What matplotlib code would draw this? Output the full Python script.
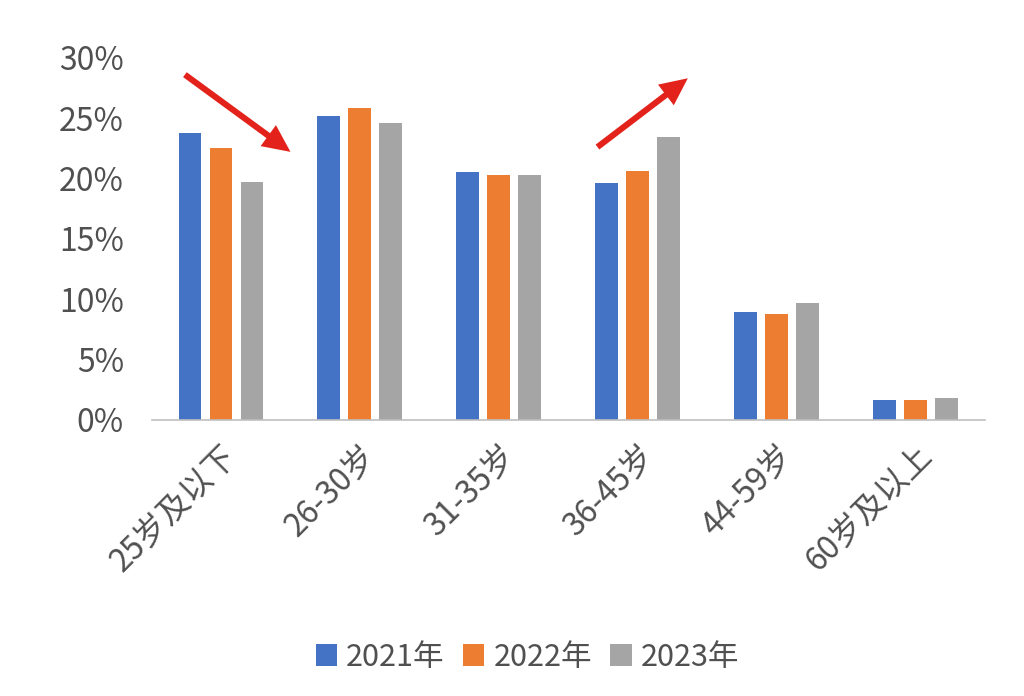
import numpy as np
import matplotlib.pyplot as plt

plt.rcParams['font.family'] = ['Noto Sans CJK SC', 'DejaVu Sans']

# 年龄段
categories = ['25岁及以下', '26-30岁', '31-35岁', '36-45岁', '44-59岁', '60岁及以上']
# 各年份占比（%）
y2021 = [23.8, 25.2, 20.5, 19.6, 8.9, 1.6]
y2022 = [22.5, 25.8, 20.3, 20.6, 8.8, 1.6]
y2023 = [19.7, 24.6, 20.3, 23.4, 9.7, 1.8]
series = ['2021年', '2022年', '2023年']
colors = ['#4472C4', '#ED7D31', '#A5A5A5']
yticks = [0, 5, 10, 15, 20, 25, 30]

# 箭头（起点, 终点），数据坐标
arrows = [((-0.26, 28.6), (0.50, 22.2)),
          ((2.71, 22.6), (3.36, 28.3))]

fig = plt.figure(figsize=(10.24, 6.96), dpi=100)
ax = fig.add_axes([0.148, 0.397, 0.814, 0.520])

x = np.arange(len(categories))
w = 0.165
step = 0.223
for i, (vals, c, lab) in enumerate(zip([y2021, y2022, y2023], colors, series)):
    ax.bar(x + (i - 1) * step, vals, width=w, color=c, label=lab)

ax.set_xlim(-0.5, len(categories) - 0.5)
ax.set_ylim(0, 30)
ax.set_yticks(yticks)
ax.set_yticklabels([f'{t}%' for t in yticks], fontsize=23, color='#505050',
                   fontweight='light')
ax.set_xticks(x)
ax.set_xticklabels(categories, rotation=45, ha='right', rotation_mode='anchor',
                   fontsize=23, color='#505050', fontweight='light')
ax.tick_params(axis='both', length=0)
ax.tick_params(axis='y', pad=20)
ax.tick_params(axis='x', pad=14)

for s in ['top', 'right', 'left']:
    ax.spines[s].set_visible(False)
ax.spines['bottom'].set_color('#BFBFBF')
ax.spines['bottom'].set_linewidth(1.2)

for (x0, y0), (x1, y1) in arrows:
    ax.annotate('', xy=(x1, y1), xytext=(x0, y0),
                arrowprops=dict(arrowstyle='simple,head_length=0.9,head_width=0.85,tail_width=0.2',
                                mutation_scale=22, color='#E3221B', lw=0,
                                shrinkA=0, shrinkB=0),
                annotation_clip=False)

leg = fig.legend(loc='center', bbox_to_anchor=(0.515, 0.056), ncol=3, frameon=False,
                 fontsize=22, handlelength=0.7, handleheight=0.7, handletextpad=0.3,
                 columnspacing=0.6)
for t in leg.get_texts():
    t.set_color('#505050')

fig.savefig('out.png', dpi=100, facecolor='white')
